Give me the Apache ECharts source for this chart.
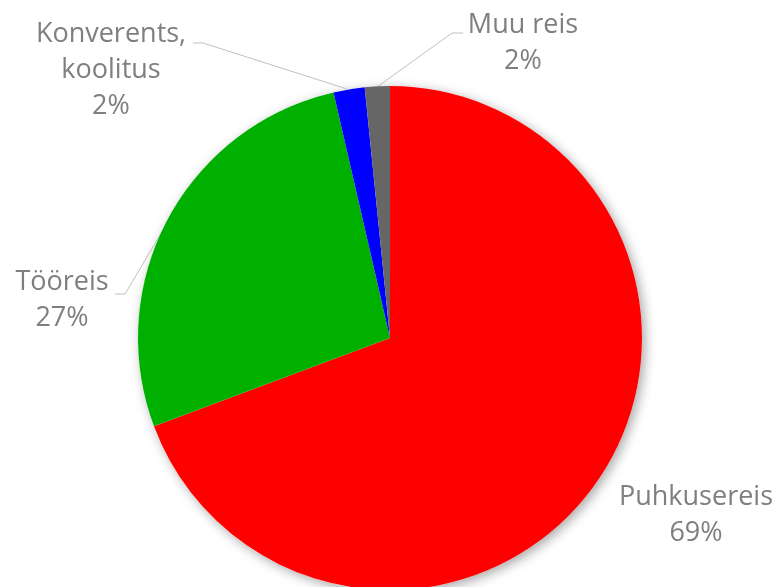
<!DOCTYPE html>
<html>
<head>
<meta charset="utf-8">
<script src="https://cdn.jsdelivr.net/npm/echarts@6/dist/echarts.min.js"></script>
<style>
  html, body { margin: 0; padding: 0; background: #fff; }
  #chart { width: 780px; height: 587px; }
</style>
</head>
<body>
<div id="chart"></div>
<script>
var categories = ['Puhkusereis', 'Tööreis', 'Konverents,\nkoolitus', 'Muu reis'];
var values = [69.3, 27.1, 2.0, 1.6];
var colors = ['#ff0000', '#00b000', '#0000ff', '#666666'];

// label placement, Excel style (centre of label block + leader line points)
var labelPos = [
  { x: 696, y: 515, line: null },
  { x: 62, y: 300, line: [[163, 230], [125, 294], [115, 294]] },
  { x: 111, y: 70, line: [[347, 89], [203, 43], [193, 43]] },
  { x: 523, y: 43, line: [[377, 87], [452, 33], [463, 33]] }
];

var chart = echarts.init(document.getElementById('chart'));

var pieData = categories.map(function (c, i) {
  return { name: c, value: values[i], itemStyle: { color: colors[i] } };
});

chart.setOption({
  animation: false,
  series: [{
    // shadow behind the pie
    type: 'pie',
    silent: true,
    center: [390, 338],
    radius: 252,
    z: 1,
    label: { show: false },
    labelLine: { show: false },
    data: [{ value: 1, itemStyle: { color: '#fff', shadowBlur: 12, shadowColor: 'rgba(0,0,0,0.35)', shadowOffsetX: 3, shadowOffsetY: 3 } }]
  }, {
    type: 'pie',
    center: [390, 338],
    radius: 252,
    startAngle: 90,
    clockwise: true,
    z: 2,
    data: pieData,
    label: {
      show: true,
      formatter: function (p) { return p.name + '\n' + Math.round(p.percent) + '%'; },
      color: '#7f7f7f',
      fontFamily: 'Open Sans',
      fontSize: 27,
      lineHeight: 36,
      align: 'center',
      overflow: 'none',
      alignTo: 'none'
    },
    labelLine: {
      show: true,
      lineStyle: { color: '#c0c0c0', width: 1 }
    },
    labelLayout: function (params) {
      var p = labelPos[params.dataIndex];
      var res = { x: p.x, y: p.y, align: 'center', verticalAlign: 'middle' };
      res.labelLinePoints = p.line ? p.line : [[p.x, p.y], [p.x, p.y], [p.x, p.y]];
      return res;
    }
  }]
});
</script>
</body>
</html>
